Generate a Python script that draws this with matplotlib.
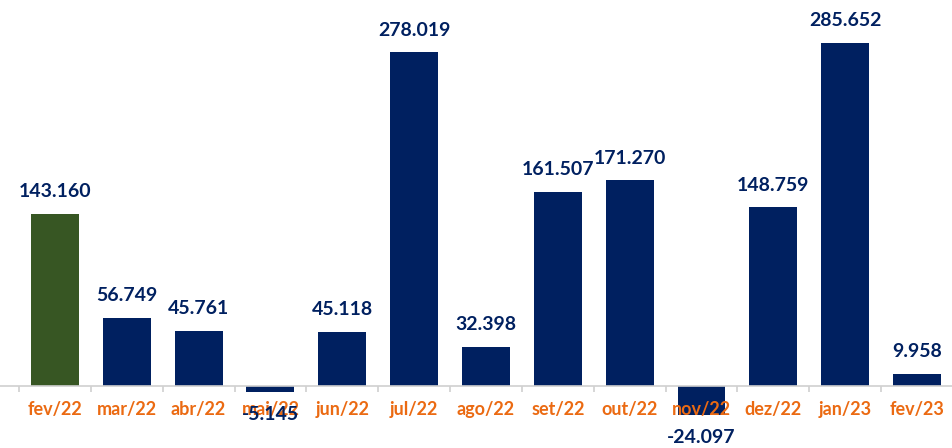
#!/usr/bin/env python3
# -*- coding: utf-8 -*-
# %% imports
import matplotlib
matplotlib.use('Agg')
import matplotlib.pyplot as plt

plt.rcParams['font.family'] = ['Lato', 'DejaVu Sans']

# %% data
months = ['fev/22', 'mar/22', 'abr/22', 'mai/22', 'jun/22', 'jul/22', 'ago/22',
          'set/22', 'out/22', 'nov/22', 'dez/22', 'jan/23', 'fev/23']
values = [143.160, 56.749, 45.761, -5.145, 45.118, 278.019, 32.398,
          161.507, 171.270, -24.097, 148.759, 285.652, 9.958]
labels = ['143.160', '56.749', '45.761', '-5.145', '45.118', '278.019', '32.398',
          '161.507', '171.270', '-24.097', '148.759', '285.652', '9.958']

navy = '#002060'
green = '#375623'
orange = '#EB6A12'
grid_gray = '#D0D0D0'

# %% plotting
fig = plt.figure(figsize=(9.53, 4.48), dpi=100)
ax = fig.add_axes([0, 0, 1, 1])

x = list(range(len(months)))
colors = [green] + [navy] * (len(months) - 1)
ax.bar(x, values, width=0.667, color=colors, zorder=1)

for xi, v, lab in zip(x, values, labels):
    if v >= 0:
        ax.annotate(lab, (xi, v), xytext=(0, 10), textcoords='offset points',
                    ha='center', va='bottom', fontsize=14, fontweight='bold',
                    color=navy)
    else:
        ax.annotate(lab, (xi, v), xytext=(0, -10), textcoords='offset points',
                    ha='center', va='top', fontsize=14, fontweight='bold',
                    color=navy)

ax.set_xlim(-0.764, 12.47)
ax.set_ylim(-51.7, 321.7)

for s in ['top', 'right', 'left']:
    ax.spines[s].set_visible(False)
ax.spines['bottom'].set_position(('data', 0))
ax.spines['bottom'].set_color(grid_gray)
ax.spines['bottom'].set_linewidth(1.2)

ax.set_yticks([])
ax.set_xticks(x)
ax.set_xticklabels(months, fontsize=13, fontweight='bold', color=orange)
ax.tick_params(axis='x', which='major', length=0, pad=11)
ax.set_xticks([i - 0.5 for i in range(len(months) + 1)], minor=True)
ax.tick_params(axis='x', which='minor', length=4, width=1.2, color=grid_gray,
               direction='out')

# %% saving
fig.savefig('out.png', dpi=100)
